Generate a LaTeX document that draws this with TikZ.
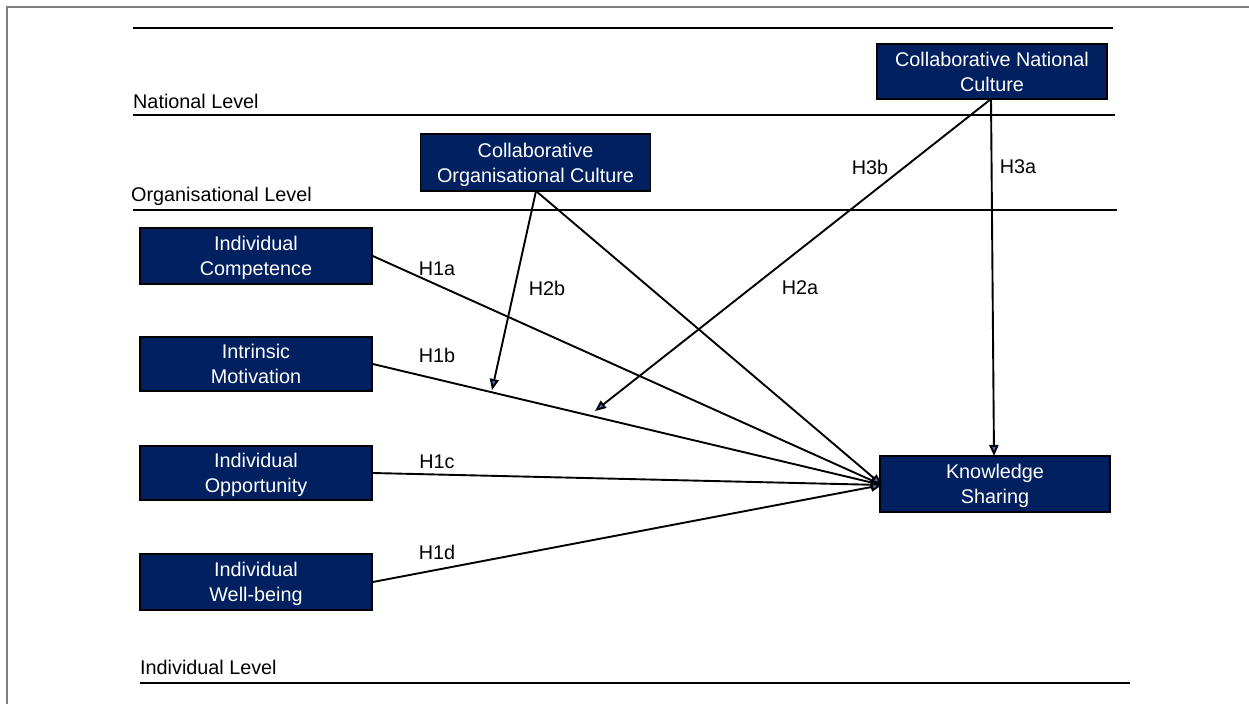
\documentclass[tikz,border=0pt]{standalone}
\usepackage{fontspec}
\setmainfont{Liberation Sans}
\usetikzlibrary{arrows.meta}
\definecolor{navy}{HTML}{002060}
\definecolor{tipblue}{HTML}{4472C4}
\definecolor{framegray}{HTML}{7F7F7F}
\begin{document}
\begin{tikzpicture}[x=1pt,y=-1pt,
  every node/.style={font=\fontsize{19.8}{25}\selectfont},
  construct/.style={draw=black,line width=1.6pt,fill=navy,text=white,
    align=center,inner sep=0pt,minimum width=231pt,minimum height=55pt,
    text depth=0pt},
  level/.style={anchor=base west,inner sep=0pt},
  hyp/.style={anchor=center,inner sep=0pt},
  levelline/.style={line width=2.4pt,line cap=butt},
  path/.style={line width=1.9pt,
    -{Triangle[length=11pt,width=9pt,fill=tipblue]}}
]
\useasboundingbox (0,0) rectangle (1249,704);
% frame edges
\draw[framegray,line width=1.2pt] (7,704) -- (7,7) -- (1249,7);

% level separators
\draw[levelline] (133,28) -- (1113,28);
\draw[levelline] (133,115) -- (1115,115);
\draw[levelline] (133,210) -- (1117,210);
\draw[levelline] (140,683) -- (1130,683);

\node[level] (natlvl) at (133,108) {National Level};
\node[level] (orglvl) at (131,201) {Organisational Level};
\node[level] (indlvl) at (140,674) {Individual Level};

% constructs
\node[construct,minimum width=230pt] (cnc) at (992,71.5) {Collaborative National\\Culture};
\node[construct,minimum width=230pt,minimum height=57pt] (coc) at (535.5,162.5) {Collaborative\\Organisational Culture};
\node[construct,minimum width=232pt,minimum height=56pt] (ic) at (256,256) {Individual\\Competence};
\node[construct,minimum width=232pt,minimum height=54pt] (im) at (256,364) {Intrinsic\\Motivation};
\node[construct,minimum width=232pt,minimum height=54pt] (io) at (256,473) {Individual\\Opportunity};
\node[construct,minimum width=232pt,minimum height=56pt] (iw) at (256,582) {Individual\\Well-being};
\node[construct,minimum width=230pt,minimum height=56pt] (ks) at (995,484) {Knowledge\\Sharing};

% moderation targets
\coordinate (h2bend) at (492,390);
\coordinate (h3bend) at (595,411);
\coordinate (ksin) at (882,485);
\coordinate (cocout) at (536,191);
\coordinate (cncout) at (991,99);
\coordinate (cncdown) at (994,456);

% hypothesised paths
\draw[path] (ic.east) -- (ksin);
\draw[path] (im.east) -- (ksin);
\draw[path] (io.east) -- (ksin);
\draw[path] (iw.east) -- (ksin);
\draw[path] (cocout) -- (ksin);
\draw[path] (cocout) -- (h2bend);
\draw[path] (cncout) -- (cncdown);
\draw[path] (cncout) -- (h3bend);

% path labels
\node[hyp] (h1a) at (437,269) {H1a};
\node[hyp] (h1b) at (437,355) {H1b};
\node[hyp] (h1c) at (437,462) {H1c};
\node[hyp] (h1d) at (437,552) {H1d};
\node[hyp] (h2b) at (547,288) {H2b};
\node[hyp] (h2a) at (800,288) {H2a};
\node[hyp] (h3b) at (870,167) {H3b};
\node[hyp] (h3a) at (1018,167) {H3a};
\end{tikzpicture}
\end{document}
